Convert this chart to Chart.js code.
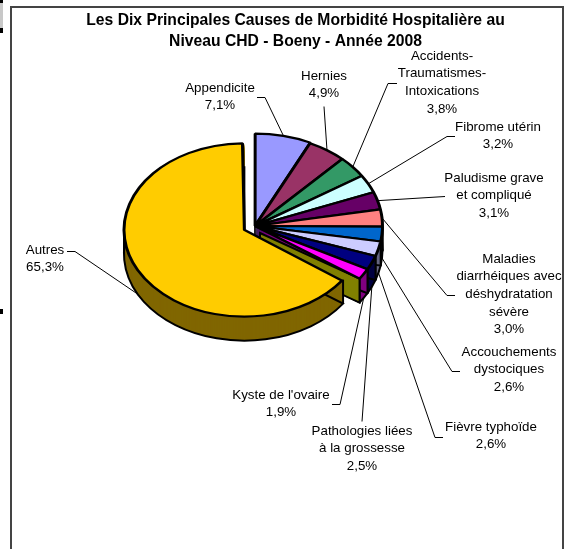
<!DOCTYPE html>
<html>
<head>
<meta charset="utf-8">
<title>Morbidité hospitalière</title>
<script src="https://cdn.jsdelivr.net/npm/chart.js@4"></script>
<style>
    html, body { margin: 0; padding: 0; background: #fff; overflow: hidden; }
    #page { position: relative; width: 564px; height: 549px; overflow: hidden; }
    #frame { position: absolute; left: 10px; top: 6px; width: 550px; height: 600px; border: 2px solid #444; }
    #pieChart { position: absolute; left: 0; top: 0; }
    .mark { position: absolute; left: 0; width: 3px; }
</style>
</head>
<body>
<div id="page">
    <div class="mark" style="top:0;height:3px;background:#000"></div>
    <div class="mark" style="top:3px;height:25px;background:#c8c8c8"></div>
    <div class="mark" style="top:28px;height:5px;background:#000"></div>
    <div class="mark" style="top:309px;height:5px;background:#000"></div>
    <div id="frame"></div>
    <canvas id="pieChart" width="564" height="549"></canvas>
</div>
<script>
const titleLines = ['Les Dix Principales Causes de Morbidité Hospitalière au', 'Niveau CHD - Boeny - Année 2008'];

const categories = [
    ['Appendicite'],
    ['Hernies'],
    ['Accidents-', 'Traumatismes-', 'Intoxications'],
    ['Fibrome utérin'],
    ['Paludisme grave', 'et compliqué'],
    ['Maladies', 'diarrhéiques avec', 'déshydratation', 'sévère'],
    ['Accouchements', 'dystociques'],
    ['Fièvre typhoïde'],
    ['Pathologies liées', 'à la grossesse'],
    ["Kyste de l'ovaire"],
    ['Autres'],
];
const values = [7.1, 4.9, 3.8, 3.2, 3.1, 3.0, 2.6, 2.6, 2.5, 1.9, 65.3];

const topColors = ['#9999FF', '#993366', '#339966', '#CCFFFF', '#660066', '#FF8080', '#0066CC', '#CCCCFF', '#000080', '#FF00FF', '#FFCC00'];
const sideColors = ['#4D4D80', '#4D1A33', '#1A4D33', '#668080', '#330033', '#804040', '#003366', '#666680', '#000040', '#800080', '#806600'];
// chart.js moves a slice by a quarter of its offset and grows it by the same amount
const explode = [2, 0, 0, 0, 0, 0, 0, 0, 0, 0, 48];

// text centre x, first line y
const labelPositions = [
    [220, 88], [324, 76], [442, 56], [498, 127], [494, 178], [509, 259],
    [509, 352], [491, 427], [362, 431], [281, 395], [45, 250],
];
// leader line points, from the label towards the slice
const leaderPoints = [
    [[257, 97], [265, 97]],
    [[324, 106]],
    [[397, 83], [388, 83]],
    [[455, 136], [447, 136]],
    [[445, 196]],
    [[455, 295], [447, 295]],
    [[460, 371], [452, 371]],
    [[443, 437], [435, 437]],
    [[362, 421]],
    [[332, 404], [340, 404]],
    [[67, 251], [75, 251]],
];

const TILT = 0.72;
const DEPTH = 24;
const LINE_HEIGHT = 17.7;
const AUTRES_SHRINK = 0.85;

function sliceCentre(el) {
    const mid = (el.startAngle + el.endAngle) / 2;
    const off = (el.options.offset || 0) / 4;
    return { x: el.x + Math.cos(mid) * off, y: el.y + Math.sin(mid) * off };
}

function sliceRadius(el) {
    return el.outerRadius + (el.options.offset || 0) / 4;
}

// point of the flattened pie for an unflattened position
function project(el, x, y, down) {
    return { x: x, y: el.y + (y - el.y) * TILT + (down || 0) };
}

function rimPoint(el, angle, down) {
    const c = sliceCentre(el);
    const r = sliceRadius(el);
    return project(el, c.x + Math.cos(angle) * r, c.y + Math.sin(angle) * r, down);
}

function slicePath(ctx, el, down) {
    const c = sliceCentre(el);
    ctx.beginPath();
    ctx.save();
    ctx.translate(0, el.y + down);
    ctx.scale(1, TILT);
    ctx.translate(0, -el.y);
    ctx.moveTo(c.x, c.y);
    ctx.arc(c.x, c.y, sliceRadius(el), el.startAngle, el.endAngle);
    ctx.closePath();
    ctx.restore();
}

function drawSide(ctx, el, color) {
    ctx.fillStyle = color;
    for (let d = DEPTH; d >= 1; d--) {
        slicePath(ctx, el, d);
        ctx.fill();
    }
    ctx.strokeStyle = '#000';
    ctx.lineWidth = 2;
    slicePath(ctx, el, DEPTH);
    ctx.stroke();
    [el.startAngle, el.endAngle].forEach((angle) => {
        if (Math.sin(angle) < 0) return;
        const p = rimPoint(el, angle, 0);
        ctx.beginPath();
        ctx.moveTo(p.x, p.y);
        ctx.lineTo(p.x, p.y + DEPTH);
        ctx.stroke();
    });
}

const pie3d = {
    id: 'pie3d',
    afterDatasetsUpdate(chart) {
        const arcs = chart.getDatasetMeta(0).data;
        const last = arcs[arcs.length - 1];
        last.outerRadius = last.outerRadius * AUTRES_SHRINK;
    },
    beforeDatasetsDraw(chart) {
        const ctx = chart.ctx;
        const arcs = chart.getDatasetMeta(0).data;
        const main = arcs[1];
        const autres = arcs[arcs.length - 1];
        ctx.save();

        for (let i = 0; i < arcs.length - 1; i++) {
            drawSide(ctx, arcs[i], sideColors[i]);
        }

        // wall behind the cut edge of the big slice
        const cut = rimPoint(arcs[arcs.length - 2], arcs[arcs.length - 2].endAngle, 0);
        ctx.beginPath();
        ctx.moveTo(main.x + 5, main.y + 7);
        ctx.lineTo(cut.x, cut.y);
        ctx.lineTo(cut.x, cut.y + DEPTH);
        ctx.lineTo(main.x + 5, main.y + 7 + DEPTH);
        ctx.closePath();
        ctx.fillStyle = '#808000';
        ctx.fill();
        ctx.strokeStyle = '#000';
        ctx.lineWidth = 2;
        ctx.stroke();

        drawSide(ctx, autres, sideColors[arcs.length - 1]);
        const c = sliceCentre(autres);
        const lx = c.x - sliceRadius(autres);
        const ly = project(autres, c.x, c.y, 0).y;
        ctx.beginPath();
        ctx.moveTo(lx, ly);
        ctx.lineTo(lx, ly + DEPTH);
        ctx.stroke();
        ctx.restore();

        ctx.save();
        ctx.translate(0, main.y);
        ctx.scale(1, TILT);
        ctx.translate(0, -main.y);
    },
    afterDatasetsDraw(chart) {
        chart.ctx.restore();
    },
    afterDraw(chart) {
        const ctx = chart.ctx;
        const arcs = chart.getDatasetMeta(0).data;
        ctx.save();
        ctx.textAlign = 'center';
        ctx.textBaseline = 'middle';
        ctx.fillStyle = '#000';

        ctx.font = 'bold 15.7px "Liberation Sans"';
        titleLines.forEach((line, i) => ctx.fillText(line, 295.5, 21 + i * 21));

        ctx.strokeStyle = '#000';
        ctx.lineWidth = 1;
        arcs.forEach((el, i) => {
            const mid = (el.startAngle + el.endAngle) / 2;
            const end = rimPoint(el, mid, Math.sin(mid) > 0 ? DEPTH : 0);
            ctx.beginPath();
            leaderPoints[i].forEach((p, j) => {
                if (j === 0) ctx.moveTo(p[0], p[1] + 0.5);
                else ctx.lineTo(p[0], p[1] + 0.5);
            });
            ctx.lineTo(end.x, end.y);
            ctx.stroke();
        });

        ctx.font = '13.33px "Liberation Sans"';
        categories.forEach((lines, i) => {
            const pos = labelPositions[i];
            const text = lines.concat(values[i].toFixed(1).replace('.', ',') + '%');
            text.forEach((line, j) => ctx.fillText(line, pos[0], pos[1] + j * LINE_HEIGHT));
        });
        ctx.restore();
    },
};

new Chart(document.getElementById('pieChart'), {
    type: 'pie',
    data: {
        labels: categories,
        datasets: [{
            data: values,
            backgroundColor: topColors,
            borderColor: '#000',
            borderWidth: 3,
            hoverBorderWidth: 3,
            offset: explode,
            hoverOffset: 0,
        }],
    },
    options: {
        responsive: false,
        animation: false,
        events: [],
        layout: { padding: { left: 102, top: 73, right: 156, bottom: 170 } },
        plugins: { legend: { display: false }, tooltip: { enabled: false } },
    },
    plugins: [pie3d],
});
</script>
</body>
</html>
